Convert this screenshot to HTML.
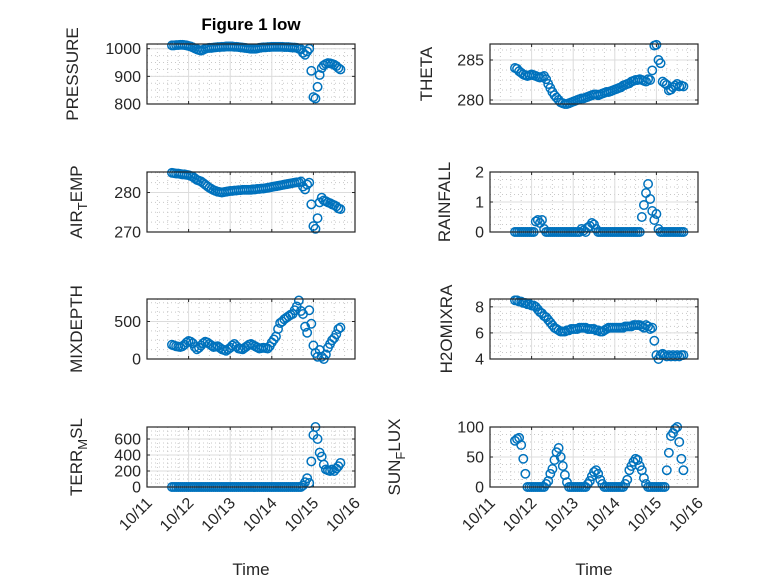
<!DOCTYPE html>
<html><head><meta charset="utf-8"><style>
body{margin:0;background:#fff}
svg text{font-family:"Liberation Sans",sans-serif;fill:#262626}
</style></head><body>
<svg id="fig" width="778" height="583" xmlns="http://www.w3.org/2000/svg">
<rect width="778" height="583" fill="#fff"/>
<text x="251" y="30" font-size="17" font-weight="bold" text-anchor="middle" style="fill:#000">Figure 1 low</text>
</svg>
<script>
// time in days since 10/11
const T=[0.6,0.65,0.7,0.75,0.8,0.85,0.9,0.95,1.0,1.05,
1.1,1.15,1.2,1.25,1.3,1.35,1.4,1.45,1.5,1.55,
1.6,1.65,1.7,1.75,1.8,1.85,1.9,1.95,2.0,2.05,
2.1,2.15,2.2,2.25,2.3,2.35,2.4,2.45,2.5,2.55,
2.6,2.65,2.7,2.75,2.8,2.85,2.9,2.95,3.0,3.05,
3.1,3.15,3.2,3.25,3.3,3.35,3.4,3.45,3.5,3.55,
3.6,3.65,3.7,3.75,3.8,3.85,3.9,3.95,4.0,4.05,
4.1,4.15,4.2,4.25,4.3,4.35,4.4,4.45,4.5,4.55,4.6,4.65];
const xTickLabels=["10/11","10/12","10/13","10/14","10/15","10/16"];
const pressure=[1012,1012,1013,1013,1014,1014,1013,1012,1010,1008,
1005,1001,998,995,993,996,1000,1002,1003,1003,
1004,1005,1006,1006,1007,1007,1008,1008,1008,1008,
1007,1007,1006,1005,1004,1003,1002,1001,1000,1000,
1000,1001,1003,1004,1005,1005,1006,1006,1007,1007,
1007,1007,1007,1007,1006,1006,1006,1005,1004,1004,
1003,1000,998,985,978,990,1000,920,825,820,
862,905,930,940,945,948,947,945,942,937,930,925];
const airTemp=[285,284.9,284.8,284.8,284.7,284.6,284.6,284.5,284.4,284.2,
284,283.6,283.2,283,282.8,282.4,282,281.6,281.2,280.9,
280.6,280.4,280.2,280.1,280,280.1,280.2,280.3,280.4,280.4,
280.5,280.5,280.6,280.6,280.7,280.7,280.7,280.7,280.7,280.8,
280.8,280.9,280.9,281,281,281.1,281.2,281.3,281.4,281.5,
281.6,281.7,281.8,281.9,282,282.1,282.2,282.3,282.4,282.5,
282.6,282.6,282.8,281.5,280.8,282,282.5,277,271.5,270.8,
273.5,277.5,278.7,278,277.8,277.5,277.3,277,276.8,276.5,276,275.8];
const mixDepth=[190,180,170,165,160,170,190,220,240,230,
210,160,130,150,180,210,230,220,200,180,
160,165,170,150,130,120,110,130,150,180,
200,170,140,135,130,150,170,190,200,185,
170,155,140,145,150,145,140,170,220,260,
300,400,480,500,530,550,570,590,600,650,
700,780,640,600,430,350,650,470,180,80,
30,120,30,0,60,150,200,250,280,330,400,420];
const terrMsl=[0,0,0,0,0,0,0,0,0,0,
0,0,0,0,0,0,0,0,0,0,
0,0,0,0,0,0,0,0,0,0,
0,0,0,0,0,0,0,0,0,0,
0,0,0,0,0,0,0,0,0,0,
0,0,0,0,0,0,0,0,0,0,
0,0,0,20,60,110,50,320,650,750,
600,430,380,280,220,210,200,220,200,230,260,300];
const theta=[284,283.9,283.6,283.4,283.2,283.1,283,283.1,283.2,283.1,
283,282.9,282.8,282.9,283,282.6,282,281.5,281,280.6,
280.3,280,279.7,279.6,279.5,279.5,279.6,279.7,279.8,279.9,
280,280.1,280.2,280.2,280.3,280.4,280.5,280.6,280.7,280.7,
280.6,280.7,280.8,280.9,281,281,281.1,281.2,281.3,281.4,
281.5,281.6,281.8,281.9,282,282.1,282.3,282.4,282.5,282.5,
282.6,282.5,282.4,282.3,282.6,282.5,283.7,286.8,286.9,285,
284.6,282.3,282.1,281.9,281.2,281.3,281.6,281.8,282,281.7,281.8,281.7];
const rainfall=[0,0,0,0,0,0,0,0,0,0,
0.35,0.4,0.3,0.4,0.1,0,0,0,0,0,
0,0,0,0,0,0,0,0,0,0,
0,0,0.1,0.05,0,0.15,0.2,0.3,0.25,0.1,
0,0,0,0,0,0,0,0,0,0,
0,0,0,0,0,0,0,0,0,0,
0,0.5,0.9,1.3,1.6,1.1,0.7,0.4,0.6,0.1,
0,0,0,0,0,0,0,0,0,0,0,0];
const h2o=[8.5,8.5,8.4,8.4,8.3,8.3,8.2,8.2,8.1,8.1,
8.0,7.8,7.6,7.5,7.3,7.2,7.0,6.8,6.6,6.4,
6.3,6.2,6.1,6.1,6.1,6.2,6.2,6.3,6.3,6.3,
6.3,6.4,6.4,6.4,6.4,6.3,6.3,6.3,6.3,6.2,
6.2,6.1,6.1,6.2,6.3,6.4,6.4,6.4,6.4,6.4,
6.4,6.4,6.4,6.5,6.5,6.5,6.5,6.6,6.6,6.6,
6.6,6.5,6.4,6.6,6.5,6.3,6.4,5.4,4.3,4.0,
4.3,4.4,4.3,4.2,4.3,4.2,4.3,4.2,4.3,4.2,4.3,4.3];
const sunFlux=[77,80,82,70,47,22,0,0,0,0,
0,0,0,0,0,5,10,22,30,45,
58,65,50,35,20,8,0,0,0,0,
0,0,0,0,0,5,10,18,25,28,
22,12,5,0,0,0,0,0,0,0,
0,0,0,5,12,28,35,42,47,45,
35,28,15,5,0,0,0,0,0,0,
0,0,0,28,57,85,90,97,100,75,47,28];

const NS="http://www.w3.org/2000/svg";
const svg=document.getElementById('fig');
function el(tag,attrs,parent){const e=document.createElementNS(NS,tag);for(const k in attrs)e.setAttribute(k,attrs[k]);(parent||svg).appendChild(e);return e;}

const panels=[
 {name:'pressure',vals:pressure,x0:147,y0:44,ymin:800,ymax:1017,ticks:[800,900,1000],minor:25,label:['PRESSURE'],lx:78},
 {name:'air-temp',vals:airTemp,x0:147,y0:172,ymin:270,ymax:285.2,ticks:[270,280],minor:2.5,label:['AIR','T','EMP'],lx:82},
 {name:'mixdepth',vals:mixDepth,x0:147,y0:299,ymin:0,ymax:800,ticks:[0,500],minor:125,label:['MIXDEPTH'],lx:82},
 {name:'terr-msl',vals:terrMsl,x0:147,y0:427,ymin:0,ymax:750,ticks:[0,200,400,600],minor:50,label:['TERR','M','SL'],lx:82},
 {name:'theta',vals:theta,x0:490,y0:44,ymin:279.5,ymax:287,ticks:[280,285],minor:1.25,label:['THETA'],lx:432},
 {name:'rainfall',vals:rainfall,x0:490,y0:172,ymin:0,ymax:2,ticks:[0,1,2],minor:0.25,label:['RAINFALL'],lx:450},
 {name:'h2omixra',vals:h2o,x0:490,y0:299,ymin:4,ymax:8.6,ticks:[4,6,8],minor:0.5,label:['H2OMIXRA'],lx:452},
 {name:'sun-flux',vals:sunFlux,x0:490,y0:427,ymin:0,ymax:100,ticks:[0,50,100],minor:12.5,label:['SUN','F','LUX'],lx:400},
];
const W=208,H=60;
panels.forEach((p,pi)=>{
 const g=el('g',{});
 
 
 const xs=d=>p.x0+d/5*W;
 const ys=v=>p.y0+H-(v-p.ymin)/(p.ymax-p.ymin)*H;
 for(let d=0.25;d<5;d+=0.25){if(Math.abs(d-Math.round(d))<1e-6)continue;
  el('line',{x1:xs(d),x2:xs(d),y1:p.y0,y2:p.y0+H,stroke:'#c8c8c8','stroke-width':1,'stroke-dasharray':'1,3'},g);}
 for(let v=Math.ceil(p.ymin/p.minor)*p.minor;v<=p.ymax;v+=p.minor){
  el('line',{x1:p.x0,x2:p.x0+W,y1:ys(v),y2:ys(v),stroke:'#c8c8c8','stroke-width':1,'stroke-dasharray':'1,3'},g);}
 for(let d=1;d<5;d++) el('line',{x1:xs(d),x2:xs(d),y1:p.y0,y2:p.y0+H,stroke:'#dcdcdc','stroke-width':1},g);
 p.ticks.forEach(v=>{
  el('line',{x1:p.x0,x2:p.x0+W,y1:ys(v),y2:ys(v),stroke:'#dcdcdc','stroke-width':1},g);
  el('line',{x1:p.x0,x2:p.x0+3,y1:ys(v),y2:ys(v),stroke:'#262626'},g);
  el('line',{x1:p.x0+W-3,x2:p.x0+W,y1:ys(v),y2:ys(v),stroke:'#262626'},g);
  const t=el('text',{x:p.x0-6,y:ys(v)+5.5,'font-size':16,'text-anchor':'end'},g);
  
  
  t.textContent=v;
 });
 for(let d=0;d<=5;d++){
  el('line',{x1:xs(d),x2:xs(d),y1:p.y0+H,y2:p.y0+H-3,stroke:'#262626'},g);
  el('line',{x1:xs(d),x2:xs(d),y1:p.y0,y2:p.y0+3,stroke:'#262626'},g);
 }
 T.forEach((d,i)=>{
  const c=el('circle',{cx:xs(d),cy:ys(p.vals[i]),r:4.2,fill:'none',stroke:'#0072BD','stroke-width':1.5},g);
  
  
 });
 el('rect',{x:p.x0,y:p.y0,width:W,height:H,fill:'none',stroke:'#262626','stroke-width':1.2},g);
 const cy=p.y0+H/2;
 const lab=el('text',{x:0,y:0,'font-size':17,'text-anchor':'middle',transform:`translate(${p.lx},${cy}) rotate(-90)`},g);
 
 
 if(p.label.length===1){lab.textContent=p.label[0];}
 else{
  const a=el('tspan',{},lab);a.textContent=p.label[0];
  const b=el('tspan',{dy:5,'font-size':13},lab);b.textContent=p.label[1];
  const c=el('tspan',{dy:-5},lab);c.textContent=p.label[2];
 }
 if(pi===3||pi===7){
  xTickLabels.forEach((s,k)=>{
   const x=xs(k),y=p.y0+H+13;
   const t=el('text',{x:0,y:0,'font-size':16,'text-anchor':'end',transform:`translate(${x+6},${y+4}) rotate(-45)`},g);
   
   
   t.textContent=s;
  });
  const xt=el('text',{x:p.x0+W/2,y:575,'font-size':17,'text-anchor':'middle'},g);
  
  
  xt.textContent='Time';
 }
});
</script>
</body></html>
